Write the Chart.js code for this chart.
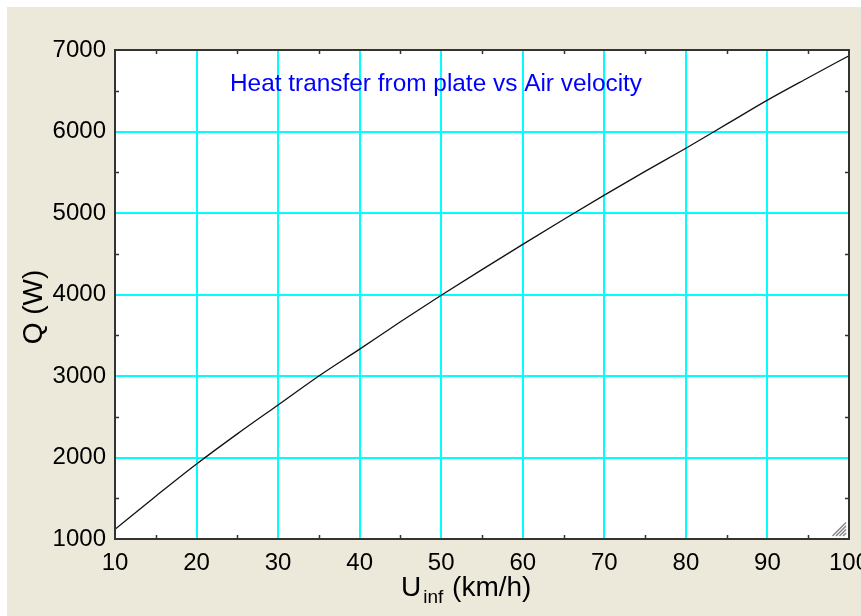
<!DOCTYPE html>
<html>
<head>
<meta charset="utf-8">
<script src="https://cdn.jsdelivr.net/npm/chart.js@4/dist/chart.umd.min.js"></script>
<style>
  html, body { margin: 0; padding: 0; background: #ffffff; }
  canvas { display: block; }
</style>
</head>
<body>
<canvas id="myChart" width="861" height="616"></canvas>
<script>
// Colores
const bgColor = '#ECE9DA'
const gridColor = '#00FFFF'
const frameColor = '#333333'
const titleColor = '#0000FF'
const fontFamily = '"Liberation Sans", Arial, sans-serif'

// Datos: velocidad del aire (km/h) y calor transferido (W)
const uValues = [10, 15, 20, 25, 30, 35, 40, 45, 50, 55, 60, 65, 70, 75, 80, 85, 90, 95, 100]
const qValues = [1120, 1525, 1920, 2290, 2645, 3000, 3330, 3665, 3990, 4305, 4615, 4920, 5220, 5510, 5795, 6090, 6385, 6660, 6930]

// Marcas de los ejes
const xTicks = [10, 20, 30, 40, 50, 60, 70, 80, 90, 100]
const yTicks = [1000, 2000, 3000, 4000, 5000, 6000, 7000]
const xMinorTicks = [15, 25, 35, 45, 55, 65, 75, 85, 95]
const yMinorTicks = [1500, 2500, 3500, 4500, 5500, 6500]

const chartTitle = 'Heat transfer from plate vs Air velocity'

const points = uValues.map((u, i) => ({ x: u, y: qValues[i] }))

// Fondo, marco, marcas menores y textos
const decorPlugin = {
  id: 'decor',
  beforeDraw(chart) {
    const c = chart.ctx
    const a = chart.chartArea
    c.save()
    c.fillStyle = '#ffffff'
    c.fillRect(0, 0, chart.width, chart.height)
    c.fillStyle = bgColor
    c.fillRect(7, 7, chart.width - 7, chart.height - 7)
    c.fillStyle = '#ffffff'
    c.fillRect(a.left, a.top, a.right - a.left, a.bottom - a.top)
    c.restore()
  },
  afterDraw(chart) {
    const c = chart.ctx
    const a = chart.chartArea
    const xs = chart.scales.x
    const ys = chart.scales.y
    c.save()
    // marcas menores
    c.strokeStyle = frameColor
    c.lineWidth = 1.5
    c.beginPath()
    xMinorTicks.forEach(v => {
      const px = Math.round(xs.getPixelForValue(v)) + 0.5
      c.moveTo(px, a.bottom); c.lineTo(px, a.bottom - 4)
      c.moveTo(px, a.top); c.lineTo(px, a.top + 4)
    })
    yMinorTicks.forEach(v => {
      const py = Math.round(ys.getPixelForValue(v)) + 0.5
      c.moveTo(a.left, py); c.lineTo(a.left + 4, py)
      c.moveTo(a.right, py); c.lineTo(a.right - 4, py)
    })
    c.stroke()
    // marco
    c.lineWidth = 2
    c.strokeRect(a.left, a.top, a.right - a.left, a.bottom - a.top)
    // esquina de redimensionar
    c.strokeStyle = '#888888'
    c.lineWidth = 1.5
    c.beginPath()
    for (let k = 0; k < 4; k++) {
      const o = 3 + k * 3.5
      c.moveTo(a.right - 3 - o, a.bottom - 3); c.lineTo(a.right - 3, a.bottom - 3 - o)
    }
    c.stroke()
    // título
    c.fillStyle = titleColor
    c.font = '24.4px ' + fontFamily
    c.textBaseline = 'alphabetic'
    c.textAlign = 'left'
    c.fillText(chartTitle, a.left + 115, a.top + 41)
    // título eje Y
    c.fillStyle = '#000000'
    c.font = '28px ' + fontFamily
    c.save()
    c.translate(42, 307)
    c.rotate(-Math.PI / 2)
    c.textAlign = 'center'
    c.fillText('Q (W)', 0, 0)
    c.restore()
    // título eje X con subíndice
    c.font = '28px ' + fontFamily
    c.fillText('U', 401, 596)
    let xPos = 401 + c.measureText('U').width + 2
    c.font = '19px ' + fontFamily
    c.fillText('inf', xPos, 603)
    xPos += c.measureText('inf').width + 1
    c.font = '28px ' + fontFamily
    c.fillText(' (km/h)', xPos, 596)
    c.restore()
  }
}

function gridLineColor(ctx) {
  const t = ctx.tick
  if (!t) return gridColor
  const s = ctx.scale
  if (t.value === s.min || t.value === s.max) return 'rgba(0,0,0,0)'
  return gridColor
}

const ctx = document.getElementById('myChart')

new Chart(ctx, {
  type: 'scatter',
  data: {
    datasets: [{
      data: points,
      showLine: true,
      borderColor: '#111111',
      borderWidth: 1.3,
      pointRadius: 0,
      cubicInterpolationMode: 'monotone',
      fill: false
    }]
  },
  options: {
    responsive: false,
    animation: false,
    layout: { padding: { left: 0, top: 50, right: 12, bottom: 0 } },
    plugins: {
      legend: { display: false },
      tooltip: { enabled: false }
    },
    scales: {
      x: {
        type: 'linear',
        min: 10,
        max: 100,
        afterBuildTicks: s => { s.ticks = xTicks.map(v => ({ value: v })) },
        afterFit: s => {
          s.height = 77
          s.paddingLeft = 0; s.paddingRight = 0
        },
        grid: { color: gridLineColor, lineWidth: 2, drawTicks: false },
        border: { display: false },
        ticks: {
          padding: 10,
          color: '#000000',
          font: { family: fontFamily, size: 24 },
          maxRotation: 0,
          autoSkip: false,
          callback: v => String(v)
        }
      },
      y: {
        type: 'linear',
        min: 1000,
        max: 7000,
        afterBuildTicks: s => { s.ticks = yTicks.map(v => ({ value: v })) },
        afterFit: s => {
          s.width = 115
          s.paddingTop = 0; s.paddingBottom = 0
        },
        grid: { color: gridLineColor, lineWidth: 2, drawTicks: false },
        border: { display: false },
        ticks: {
          padding: 9,
          color: '#000000',
          font: { family: fontFamily, size: 24 },
          autoSkip: false,
          callback: v => String(v)
        }
      }
    }
  },
  plugins: [decorPlugin]
})
</script>
</body>
</html>
